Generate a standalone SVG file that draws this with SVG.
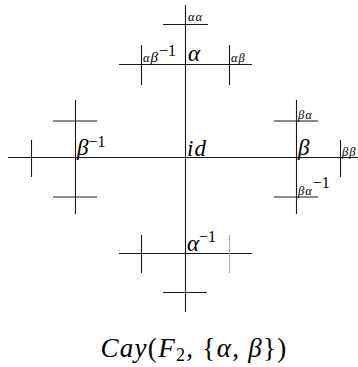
<svg xmlns="http://www.w3.org/2000/svg" width="358" height="367" viewBox="0 0 358 367">
<style>
.e{stroke:#1a1a1a;stroke-width:1.1;fill:none}
.g{stroke:#aaa;stroke-width:1.1;fill:none}
text{font-family:"Liberation Serif","DejaVu Serif",serif;fill:#000}
.m{font-style:italic}
.big{font-size:23px;letter-spacing:1px}
.sm{font-size:12.5px;letter-spacing:1px}
.sup{font-size:16px;font-style:normal}
</style>
<rect width="358" height="367" fill="#fff"/>
<g id="connectors">
<line class="e" x1="185.5" y1="5" x2="185.5" y2="312"/>
<line class="e" x1="8" y1="157.5" x2="358" y2="157.5"/>
<line class="e" x1="119" y1="64.5" x2="252" y2="64.5"/>
<line class="e" x1="141.5" y1="45" x2="141.5" y2="85"/>
<line class="e" x1="229.5" y1="45" x2="229.5" y2="85"/>
<line class="e" x1="163" y1="24.5" x2="208" y2="24.5"/>
<line class="e" x1="119" y1="253.5" x2="252" y2="253.5"/>
<line class="e" x1="141.5" y1="235" x2="141.5" y2="273"/>
<line class="g" x1="229.5" y1="235" x2="229.5" y2="273"/>
<line class="e" x1="163" y1="292.5" x2="207" y2="292.5"/>
<line class="e" x1="75.5" y1="100" x2="75.5" y2="214"/>
<line class="e" x1="53" y1="121" x2="97" y2="121"/>
<line class="e" x1="53" y1="197" x2="97" y2="197"/>
<line class="e" x1="31.5" y1="140" x2="31.5" y2="177"/>
<line class="e" x1="296.5" y1="100" x2="296.5" y2="214"/>
<line class="e" x1="274" y1="121" x2="318" y2="121"/>
<line class="e" x1="274" y1="197" x2="318" y2="197"/>
<line class="e" x1="340.5" y1="140" x2="340.5" y2="177"/>
</g>
<g id="node-id"><text class="m big" x="187" y="156">id</text></g>
<g id="node-alpha"><text class="m big" x="188" y="61">α</text></g>
<g id="node-alphaalpha"><text class="m sm" x="188" y="21">αα</text></g>
<g id="node-alphabetainv"><text x="143" y="62"><tspan class="m sm">α</tspan><tspan class="m" font-size="15">β</tspan><tspan class="sup" font-size="15" dy="-6" dx="1">−1</tspan></text></g>
<g id="node-alphabeta"><text class="m sm" x="231" y="62">αβ</text></g>
<g id="node-alphainv"><text x="187" y="251"><tspan class="m big">α</tspan><tspan class="sup" dy="-9" dx="-1">−1</tspan></text></g>
<g id="node-betainv"><text x="77" y="155"><tspan class="m big">β</tspan><tspan class="sup" dy="-8" dx="-1">−1</tspan></text></g>
<g id="node-beta"><text class="m big" x="298" y="155">β</text></g>
<g id="node-betaalpha"><text class="m sm" x="298" y="119">βα</text></g>
<g id="node-betaalphainv"><text x="298" y="195"><tspan class="m sm">βα</tspan><tspan class="sup" font-size="15" dy="-7">−1</tspan></text></g>
<g id="node-betabeta"><text class="m sm" x="342" y="156">ββ</text></g>
<g id="caption"><text x="194" y="357" font-size="27" letter-spacing="1.3" text-anchor="middle"><tspan class="m">Cay</tspan>(<tspan class="m">F</tspan><tspan font-size="18" dy="4">2</tspan><tspan dy="-4">, {</tspan><tspan class="m">α</tspan>, <tspan class="m">β</tspan>})</text></g>
</svg>
